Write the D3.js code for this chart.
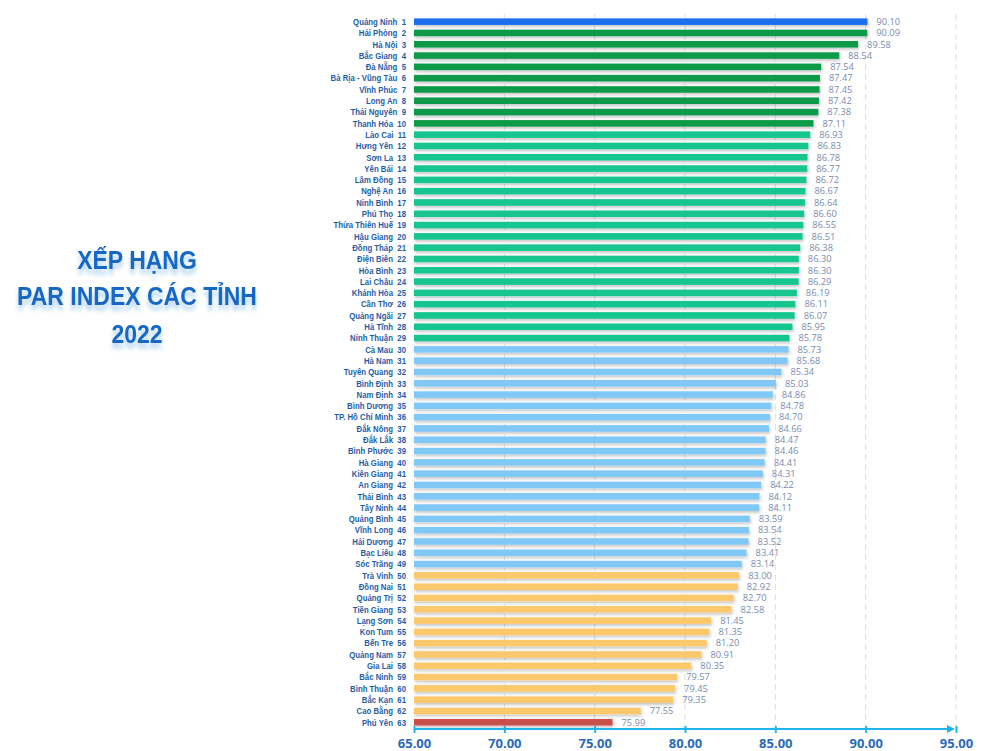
<!DOCTYPE html>
<html><head><meta charset="utf-8">
<script src="https://cdn.jsdelivr.net/npm/d3@7"></script>
<style>
html,body{margin:0;padding:0;background:#fff;}
svg{display:block;}
</style></head>
<body>
<svg id="c" width="1000" height="751"></svg>
<script>
const provinces = ["Quảng Ninh","Hải Phòng","Hà Nội","Bắc Giang","Đà Nẵng","Bà Rịa - Vũng Tàu","Vĩnh Phúc","Long An","Thái Nguyên","Thanh Hóa",
"Lào Cai","Hưng Yên","Sơn La","Yên Bái","Lâm Đồng","Nghệ An","Ninh Bình","Phú Thọ","Thừa Thiên Huế","Hậu Giang",
"Đồng Tháp","Điện Biên","Hòa Bình","Lai Châu","Khánh Hòa","Cần Thơ","Quảng Ngãi","Hà Tĩnh","Ninh Thuận","Cà Mau",
"Hà Nam","Tuyên Quang","Bình Định","Nam Định","Bình Dương","TP. Hồ Chí Minh","Đắk Nông","Đắk Lắk","Bình Phước","Hà Giang",
"Kiên Giang","An Giang","Thái Bình","Tây Ninh","Quảng Bình","Vĩnh Long","Hải Dương","Bạc Liêu","Sóc Trăng","Trà Vinh",
"Đồng Nai","Quảng Trị","Tiền Giang","Lạng Sơn","Kon Tum","Bến Tre","Quảng Nam","Gia Lai","Bắc Ninh","Bình Thuận",
"Bắc Kạn","Cao Bằng","Phú Yên"];
const scores = [90.10,90.09,89.58,88.54,87.54,87.47,87.45,87.42,87.38,87.11,
86.93,86.83,86.78,86.77,86.72,86.67,86.64,86.60,86.55,86.51,
86.38,86.30,86.30,86.29,86.19,86.11,86.07,85.95,85.78,85.73,
85.68,85.34,85.03,84.86,84.78,84.70,84.66,84.47,84.46,84.41,
84.31,84.22,84.12,84.11,83.59,83.54,83.52,83.41,83.14,83.00,
82.92,82.70,82.58,81.45,81.35,81.20,80.91,80.35,79.57,79.45,
79.35,77.55,75.99];
const tiers = [1,2,2,2,2,2,2,2,2,2,
3,3,3,3,3,3,3,3,3,3,3,3,3,3,3,3,3,3,3,
4,4,4,4,4,4,4,4,4,4,4,4,4,4,4,4,4,4,4,4,
5,5,5,5,5,5,5,5,5,5,5,5,5,
6];
const tierColors = {1:"#1a6ef0",2:"#0c9a4a",3:"#14c68e",4:"#80c9f6",5:"#fbc96c",6:"#c9504e"};
const xTicks = [65,70,75,80,85,90,95];
const titleLines = ["XẾP HẠNG","PAR INDEX CÁC TỈNH","2022"];

const data = provinces.map((p,i)=>({name:p, rank:i+1, value:scores[i], tier:tiers[i]}));

const svg = d3.select("#c");
const defs = svg.append("defs");
const f = defs.append("filter").attr("id","sh").attr("x","-5%").attr("y","-50%").attr("width","110%").attr("height","250%");
f.append("feDropShadow").attr("dx",1).attr("dy",2).attr("stdDeviation",1.4).attr("flood-color","#000").attr("flood-opacity",0.22);
const tf = defs.append("filter").attr("id","tsh").attr("x","-10%").attr("y","-30%").attr("width","120%").attr("height","180%");
tf.append("feDropShadow").attr("dx",0).attr("dy",5).attr("stdDeviation",2.5).attr("flood-color","#1c7ad6").attr("flood-opacity",0.35);

const x = d3.scaleLinear().domain([65,95]).range([414,956]);
const y = d3.scaleBand().domain(data.map(d=>d.rank)).range([16, 16+63*11.3]).paddingInner(0.42).paddingOuter(0.21);
const axisY = 729;

// grid
svg.append("g").selectAll("line").data(xTicks.slice(1)).join("line")
  .attr("x1",d=>x(d)).attr("x2",d=>x(d)).attr("y1",14).attr("y2",axisY)
  .attr("stroke",d=>d>=90?"#ecd6dc":"#dedede").attr("stroke-width",1).attr("stroke-dasharray","6,4");

// bars
svg.append("g").selectAll("rect").data(data).join("rect")
  .attr("x",x(65)).attr("y",d=>y(d.rank)).attr("width",d=>x(d.value)-x(65)).attr("height",y.bandwidth())
  .attr("fill",d=>tierColors[d.tier]).attr("filter","url(#sh)");

// value labels
svg.append("g").selectAll("text").data(data).join("text")
  .attr("x",d=>x(d.value)+9).attr("y",d=>y(d.rank)+y.bandwidth()/2).attr("dy","0.36em")
  .attr("font-family","'Open Sans',sans-serif").attr("font-size",9.3).attr("fill","#7a8caa")
  .text(d=>d.value.toFixed(2));

// category labels (horizontally condensed)
svg.append("g").attr("transform","translate(406,0) scale(0.84,1)")
  .selectAll("text").data(data).join("text")
  .attr("x",0).attr("y",d=>y(d.rank)+y.bandwidth()/2).attr("dy","0.36em")
  .attr("text-anchor","end").attr("font-family","'Liberation Sans',Arial,sans-serif")
  .attr("font-weight","bold").attr("font-size",9.3).attr("fill","#1e5ea6").attr("xml:space","preserve")
  .text(d=>d.name+"  "+d.rank);

// axis
const ax = svg.append("g").attr("transform",`translate(0,${axisY})`)
  .call(d3.axisBottom(x).tickValues(xTicks).tickFormat(d3.format(".2f")).tickSize(4).tickPadding(6));
ax.select(".domain").attr("stroke","#22b4e8").attr("stroke-width",2).attr("d",`M${x(65)},0H${x(95)-4}`);
ax.selectAll(".tick line").attr("stroke","#22b4e8").attr("stroke-width",2).attr("y1",-3).attr("y2",4);
ax.selectAll(".tick text").attr("font-family","'Open Sans',sans-serif").attr("font-weight","bold")
  .attr("font-size",13).attr("fill","#2a6ab8");
ax.append("path").attr("d",`M${x(95)-9},-4L${x(95)-1},0L${x(95)-9},4Z`).attr("fill","#22b4e8");

// title
const tBase = [269,305,343];
svg.append("g").attr("transform","translate(137,0) scale(0.92,1)")
  .selectAll("text").data(titleLines).join("text")
  .attr("x",0).attr("y",(d,i)=>tBase[i]).attr("text-anchor","middle")
  .attr("font-family","'Liberation Sans',Arial,sans-serif").attr("font-weight","bold").attr("font-size",25)
  .attr("fill","#1668c4").attr("filter","url(#tsh)").text(d=>d);
</script>
</body></html>
